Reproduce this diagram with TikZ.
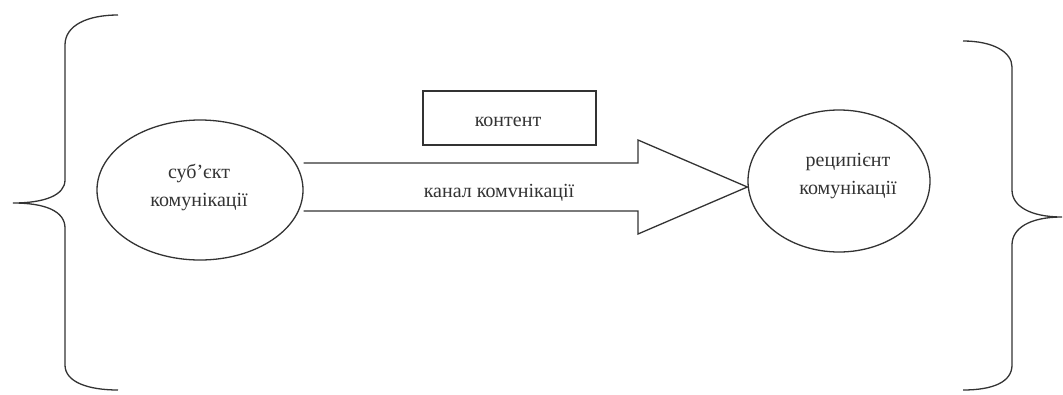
\documentclass[tikz,border=0pt]{standalone}
\usepackage{fontspec}
\setmainfont{Liberation Serif}
\usetikzlibrary{calc,shapes.geometric}
\begin{document}
\begin{tikzpicture}[x=1pt,y=-1pt,
  ln/.style={draw=black!80,line width=1.3pt},
  oval/.style={ln,ellipse,inner sep=0pt},
  lbl/.style={font=\fontsize{20}{28}\selectfont,text=black!80,inner sep=0pt}]
\useasboundingbox (0,0) rectangle (1063,394);
% left brace
\draw[ln] (118,15) .. controls (88,15) and (65,25) .. (65,45) -- (65,180)
  .. controls (65,195) and (45,203) .. (13,203)
  .. controls (45,203) and (65,211) .. (65,228) -- (65,365)
  .. controls (65,382) and (88,390) .. (118,390);
% right brace
\draw[ln] (963,41) .. controls (993,41) and (1012,52) .. (1012,67) -- (1012,190)
  .. controls (1012,206) and (1030,217) .. (1062,217)
  .. controls (1030,217) and (1012,228) .. (1012,245) -- (1012,365)
  .. controls (1012,382) and (993,390) .. (963,390);
% ellipses
\node[oval,minimum width=206pt,minimum height=140pt] (subj) at (200,190) {};
\node[lbl,align=center] (subjtxt) at (199,187) {суб’єкт\\комунікації};
\node[oval,minimum width=182pt,minimum height=142pt] (rec) at (839,181) {};
\node[lbl,align=center] (rectxt) at (848,176) {реципієнт\\комунікації};
% content box
\node[ln,rectangle,minimum width=173pt,minimum height=54pt,inner sep=0pt] (cont) at (509.5,118) {};
\node[lbl] (conttxt) at (508,122) {контент};
% block arrow
\coordinate (a0) at (subj.east |- 0,163);
\coordinate (a1) at (subj.east |- 0,211);
\coordinate (tip) at (rec.west |- 0,187);
\draw[ln,line join=miter] (a0) -- (638,163) -- (638,140) -- (tip) -- (638,234) -- (638,211) -- (a1);
\node[lbl] (chan) at (499,193) {канал комvнікації};
\end{tikzpicture}
\end{document}
